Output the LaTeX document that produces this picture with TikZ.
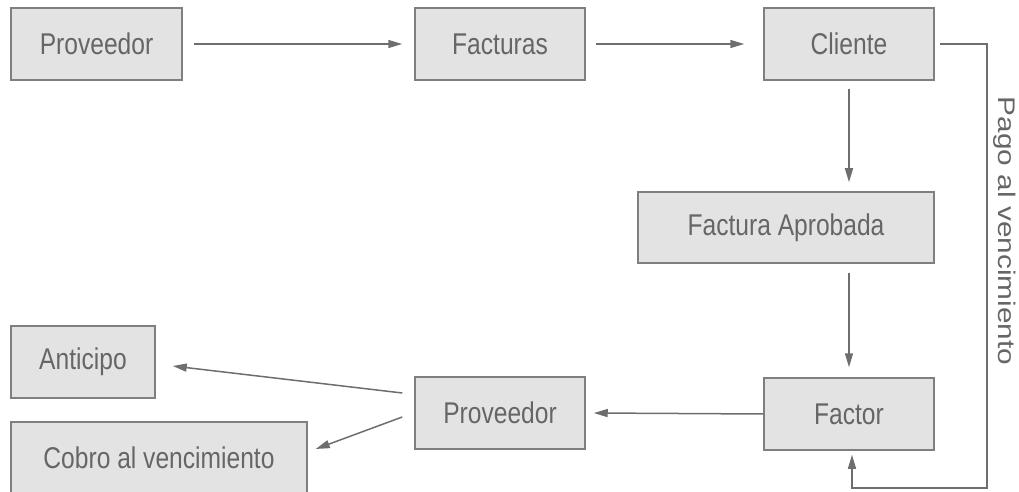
\documentclass[tikz,border=0pt]{standalone}
\usepackage{fontspec}
\setmainfont{Liberation Sans}[FakeStretch=0.82]
\newfontfamily\pagofont{Liberation Sans}[FakeStretch=1.24]
\usetikzlibrary{arrows.meta}
\definecolor{cajafondo}{HTML}{E3E3E3}
\definecolor{cajaborde}{HTML}{7F7F7F}
\definecolor{textogris}{HTML}{666666}
\definecolor{lineagris}{HTML}{6E6E6E}
\begin{document}
\begin{tikzpicture}[x=0.5pt,y=-0.5pt,
    caja/.style={draw=cajaborde,fill=cajafondo,line width=0.75pt,text=textogris,
      inner sep=0pt,minimum width=85pt,minimum height=36pt,
      font=\fontsize{15}{18}\selectfont},
    flecha/.style={draw=lineagris,line width=0.75pt,
      -{Triangle[length=7pt,width=4pt]}}]
  \useasboundingbox (0,0) rectangle (1019,492);
  \clip (0,0) rectangle (1019,492);
  \node[caja,minimum width=85.5pt] (prov) at (96.5,44) {Proveedor};
  \node[caja] (fact) at (500,44) {Facturas};
  \node[caja] (cli) at (849,44) {Cliente};
  \node[caja,minimum width=148pt,minimum height=35.5pt] (aprob) at (786,227.5) {Factura Aprobada};
  \node[caja] (factor) at (849,414) {Factor};
  \node[caja] (prov2) at (500,413) {Proveedor};
  \node[caja,minimum width=72pt] (antic) at (83,362) {Anticipo};
  \node[caja,minimum width=148pt] (cobro) at (159,458) {Cobro al vencimiento};
  \node[rotate=-90,text=textogris,inner sep=0pt,font=\pagofont\fontsize{12}{14}\selectfont]
    (pago) at (1005,231) {Pago al vencimiento};
  \draw[flecha] ([xshift=5.5pt]prov.east) -- ([xshift=-6pt]fact.west);
  \draw[flecha] ([xshift=5pt]fact.east) -- ([xshift=-9.5pt]cli.west);
  \draw[flecha] ([yshift=-4pt]cli.south) -- ([yshift=4.5pt]aprob.north -| cli.south);
  \draw[flecha] ([yshift=-4.5pt]aprob.south -| factor.north) -- ([yshift=5pt]factor.north);
  \draw[flecha] (factor.west) -- ([xshift=4pt]prov2.east);
  \draw[flecha] ([shift={(-12,-20)}]prov2.west) -- ([shift={(17,4)}]antic.east);
  \draw[flecha] ([shift={(-12,4)}]prov2.west) -- ([shift={(8,-9)}]cobro.east);
  \coordinate (esq) at (987,488);
  \draw[flecha] ([xshift=2.5pt]cli.east) -| (esq) -| ([shift={(3,4)}]factor.south);
\end{tikzpicture}
\end{document}
